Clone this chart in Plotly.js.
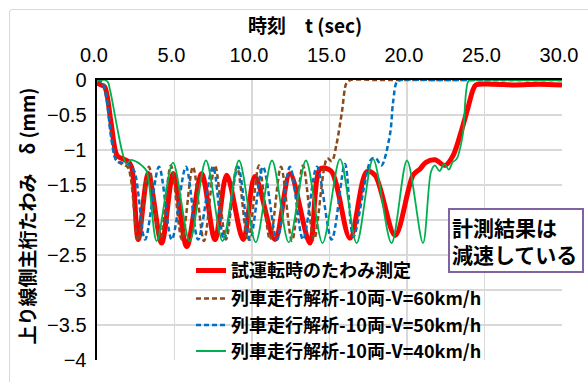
<!DOCTYPE html>
<html>
<head>
<meta charset="utf-8">
<script src="https://cdn.plot.ly/plotly-3.0.1.min.js"></script>
<style>
  html, body { margin: 0; padding: 0; background: #ffffff; overflow: hidden; }
  #wrap { position: relative; width: 588px; height: 382px; }
  #chart { position: absolute; left: 0; top: 0; width: 588px; height: 382px; }
  #frame { position: absolute; left: 9px; top: 9px; width: 620px; height: 420px;
           border: 1px solid #d9d9d9; border-radius: 3px; pointer-events: none; }
</style>
</head>
<body>
<div id="wrap"><div id="chart"></div><div id="frame"></div></div>
<script>
// ---- data ----
const seriesNames = [
  "試運転時のたわみ測定",
  "列車走行解析-10両-V=60km/h",
  "列車走行解析-10両-V=50km/h",
  "列車走行解析-10両-V=40km/h"
];

const tMeasured = [0, 0.25, 0.5, 0.9, 1.3, 1.7, 2.0, 2.24, 2.66, 3.31, 4.17, 4.92, 5.79, 6.75, 7.61, 8.37, 9.44, 10.19, 11.48,
  12.45, 13.74, 14.4, 15.1, 16.32, 17.4, 17.94, 19.23, 20.39, 20.84, 21.2, 21.8, 22.45, 22.97, 23.53, 23.94, 24.26, 24.45, 25.5, 27, 28.5, 30];
const dMeasured = [-0.04, -0.07, -0.1, -0.6, -1.08, -1.13, -1.16, -1.25, -2.28, -1.34, -2.33, -1.34, -2.38, -1.34, -2.28, -1.36, -2.28, -1.38, -2.28,
  -1.34, -2.33, -1.27, -1.3, -2.26, -1.31, -1.36, -2.22, -1.36, -1.27, -1.18, -1.14, -1.22, -1.08, -0.71, -0.39, -0.14, -0.07, -0.06, -0.07, -0.06, -0.07];

const t60 = [0, 0.3, 0.6, 0.9, 1.25, 1.6, 2.0, 2.65, 3.35, 4.06, 4.77, 5.48, 6.19, 6.9, 7.61, 8.32, 9.03, 9.74,
  10.45, 11.16, 11.87, 12.58, 13.29, 14.0, 14.85, 15.15, 15.45, 15.8, 16.1, 16.35, 18, 22, 26, 30];
const d60 = [0, -0.02, -0.2, -0.75, -1.15, -1.2, -1.25, -2.3, -1.24, -2.3, -1.22, -2.28, -1.24, -2.3, -1.22, -2.28, -1.24, -2.3,
  -1.22, -2.28, -1.24, -2.3, -1.22, -2.28, -1.12, -1.16, -0.92, -0.46, -0.04, 0, 0, 0, 0, 0];

const t50 = [0, 0.3, 0.6, 0.9, 1.25, 1.6, 2.0, 2.4, 3.10, 4.0, 4.82, 5.74, 6.52, 7.48, 8.19, 9.1, 9.87, 10.71, 11.61,
  12.45, 13.29, 14.19, 15.14, 16.0, 16.54, 17.7, 18.0, 18.35, 18.9, 19.1, 19.35, 19.6, 22, 26, 30];
const d50 = [0, -0.03, -0.25, -0.8, -1.15, -1.18, -1.2, -1.3, -2.28, -1.24, -2.28, -1.24, -2.28, -1.24, -2.28, -1.24, -2.28, -1.24, -2.28,
  -1.24, -2.28, -1.24, -2.28, -1.2, -2.24, -1.13, -1.12, -1.22, -0.78, -0.32, -0.02, 0, 0, 0, 0];

const t40 = [0, 0.5, 0.7, 0.84, 1.27, 1.6, 1.9, 2.2, 2.56, 2.88, 3.2, 3.85, 4.9, 5.98, 7.03, 8.1, 9.16, 10.24, 11.29, 12.37,
  13.48, 14.55, 15.68, 16.75, 17.81, 19.0, 20.0, 21.03, 21.55, 21.8, 22.1, 22.4, 22.7, 22.95, 23.2, 23.6, 23.95, 24.2, 27, 30];
const d40 = [0, 0, -0.03, -0.14, -0.64, -1.0, -1.2, -1.14, -1.17, -1.22, -1.3, -2.3, -1.18, -2.3, -1.15, -2.3, -1.15, -2.32, -1.15, -2.32,
  -1.15, -2.33, -1.13, -2.33, -1.13, -2.33, -1.15, -2.33, -1.31, -1.22, -1.3, -1.2, -1.28, -1.17, -1.13, -0.78, -0.02, 0, 0, 0];

const xTickVals = [0, 5, 10, 15, 20, 25, 30];
const xTitle = "時刻　t (sec)";
const yTitle = "上り線側主桁たわみ　δ (mm)";
const noteText = "計測結果は<br>減速している";

// ---- chart ----
const JP = "'Noto Sans CJK JP', 'Noto Sans', sans-serif";
const NUM = "'Liberation Sans', Arial, sans-serif";

const traces = [
  { x: tMeasured, y: dMeasured, name: seriesNames[0], mode: "lines", legend: "legend",
    line: { color: "#ff0000", width: 5, shape: "spline", smoothing: 0.9 } },
  { x: t60, y: d60, name: seriesNames[1], mode: "lines", legend: "legend2",
    line: { color: "#8b4a1d", width: 2.5, dash: "5px,3px", shape: "spline", smoothing: 0.9 } },
  { x: t50, y: d50, name: seriesNames[2], mode: "lines", legend: "legend3",
    line: { color: "#0070c0", width: 2.5, dash: "5px,3px", shape: "spline", smoothing: 0.9 } },
  { x: t40, y: d40, name: seriesNames[3], mode: "lines", legend: "legend4",
    line: { color: "#00b050", width: 1.8, shape: "spline", smoothing: 0.9 } }
];

const L = 97, R = 26, T = 80, B = 12, W = 588, H = 382;
const pw = W - L - R, ph = H - T - B;
const px = v => (v - L) / pw;          // pixel x -> paper x
const py = v => (H - B - v) / ph;      // pixel y -> paper y

function leg(yPix) {
  return { x: px(191), y: py(yPix), xanchor: "left", yanchor: "middle",
    bgcolor: "rgba(0,0,0,0)", borderwidth: 0,
    font: { family: JP, size: 18, color: "#000000", weight: "bold" } };
}

const layout = {
  width: W, height: H,
  margin: { l: L, r: R, t: T, b: B },
  paper_bgcolor: "#ffffff", plot_bgcolor: "#ffffff",
  showlegend: true,
  legend: leg(277.5), legend2: leg(306.5), legend3: leg(334), legend4: leg(361),
  xaxis: {
    range: [0, 30], side: "top", tickvals: xTickVals, tickformat: ".1f",
    showline: true, linecolor: "#000000", linewidth: 2.5, layer: "below traces",
    showgrid: true, gridcolor: "#d9d9d9", gridwidth: 1.3, zeroline: false,
    ticks: "", ticklabelstandoff: 8, ticklabelshift: -3,
    tickfont: { family: NUM, size: 20, color: "#000000" }, fixedrange: true
  },
  yaxis: {
    range: [-4, 0], dtick: 0.5, tick0: 0,
    showline: true, linecolor: "#000000", linewidth: 2.5, layer: "below traces",
    showgrid: true, gridcolor: "#d9d9d9", gridwidth: 1.3, zeroline: false,
    ticks: "", ticklabelstandoff: 4,
    tickfont: { family: NUM, size: 20, color: "#000000" }, fixedrange: true
  },
  annotations: [
    { text: xTitle, xref: "paper", yref: "paper", x: px(305), y: py(22),
      xanchor: "center", yanchor: "middle", showarrow: false,
      font: { family: JP, size: 19, color: "#000000", weight: "bold" } },
    { text: yTitle, xref: "paper", yref: "paper", x: px(27), y: py(221.5), textangle: -90,
      xanchor: "center", yanchor: "middle", showarrow: false,
      font: { family: JP, size: 19, color: "#000000", weight: "bold" } },
    { text: noteText, xref: "paper", yref: "paper", x: px(448), y: py(213),
      xanchor: "left", yanchor: "top", showarrow: false, align: "left",
      width: 128, borderpad: 2, bordercolor: "#8064a2", borderwidth: 2, bgcolor: "#ffffff",
      font: { family: JP, size: 21, color: "#000000", weight: "bold" } }
  ]
};

Plotly.newPlot("chart", traces, layout, { displayModeBar: false, staticPlot: true });
</script>
</body>
</html>
